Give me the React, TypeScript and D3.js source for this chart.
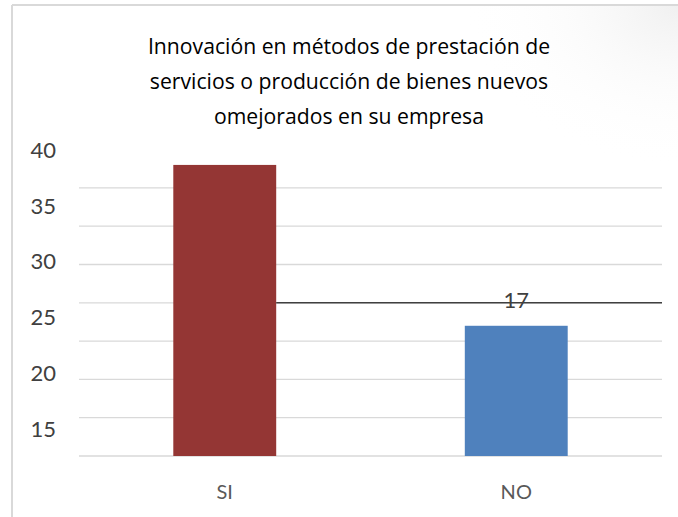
import React from "react";
import * as d3 from "d3";

const categories = ["SI", "NO"];
const values = [38, 17];
const barColors = ["#943634", "#4F81BD"];
const gridValues = [0, 5, 10, 15, 20, 25, 30, 35];
const yLabels = ["40", "35", "30", "25", "20", "15"];
const dataLabels = ["", "17"];
const refLineValue = 20;
const titleLines = [
  "Innovación en métodos de prestación de",
  "servicios o producción de bienes nuevos",
  "omejorados en su empresa",
];

const W = 678;
const H = 517;
const FONT = "Lato, 'Open Sans', sans-serif";
const TITLE_FONT = "'Open Sans', sans-serif";

export default function App() {
  const x = d3.scaleBand<string>().domain(categories).range([79, 662]).padding(0);
  const y = d3.scaleLinear().domain([0, 40]).range([456, 149.6]);
  const labelPos = d3.scalePoint<string>().domain(yLabels).range([150, 429]);
  const barW = x.bandwidth() * 0.353;

  return (
    <svg width={W} height={H} style={{ position: "absolute", left: 0, top: 0 }}>
      <defs>
        <radialGradient id="shade" cx="1" cy="0" r="0.9" fx="1" fy="0">
          <stop offset="0" stopColor="#f0f0f0" stopOpacity={1} />
          <stop offset="0.5" stopColor="#f8f8f8" stopOpacity={0.5} />
          <stop offset="1" stopColor="#ffffff" stopOpacity={0} />
        </radialGradient>
      </defs>
      <rect x={0} y={0} width={W} height={H} fill="#ffffff" />
      <rect x={440} y={5} width={W - 440} height={180} fill="url(#shade)" />
      <line x1={12} y1={5} x2={W} y2={5} stroke="#d9d9d9" strokeWidth={2} />
      <line x1={12} y1={5} x2={12} y2={H} stroke="#d9d9d9" strokeWidth={2} />

      {titleLines.map((t, i) => (
        <text
          key={i}
          x={349}
          y={54 + i * 35}
          textAnchor="middle"
          fontFamily={TITLE_FONT}
          fontSize={21.2}
          fill="#000000"
        >
          {t}
        </text>
      ))}

      {gridValues.map((v) => (
        <line
          key={v}
          x1={79}
          x2={662}
          y1={y(v)}
          y2={y(v)}
          stroke="#d9d9d9"
          strokeWidth={1.3}
        />
      ))}

      {yLabels.map((l) => (
        <text
          key={l}
          x={56}
          y={labelPos(l)}
          dy="0.35em"
          textAnchor="end"
          fontFamily={FONT}
          fontSize={22}
          fill="#404040"
        >
          {l}
        </text>
      ))}

      {categories.map((c, i) => {
        const cx = (x(c) as number) + x.bandwidth() / 2;
        return (
          <g key={c}>
            <rect
              x={cx - barW / 2}
              y={y(values[i])}
              width={barW}
              height={y(0) - y(values[i])}
              fill={barColors[i]}
            />
            <text
              x={cx}
              y={492}
              dy="0.35em"
              textAnchor="middle"
              fontFamily={FONT}
              fontSize={20}
              fill="#595959"
            >
              {c}
            </text>
          </g>
        );
      })}

      {(() => {
        const cx0 = (x(categories[0]) as number) + x.bandwidth() / 2;
        return (
          <line
            x1={cx0 + barW / 2}
            x2={662}
            y1={y(refLineValue)}
            y2={y(refLineValue)}
            stroke="#404040"
            strokeWidth={1.6}
          />
        );
      })()}

      {categories.map((c, i) =>
        dataLabels[i] ? (
          <text
            key={"dl" + c}
            x={(x(c) as number) + x.bandwidth() / 2}
            y={300}
            dy="0.35em"
            textAnchor="middle"
            fontFamily={FONT}
            fontSize={22}
            fill="#404040"
          >
            {dataLabels[i]}
          </text>
        ) : null
      )}
    </svg>
  );
}
